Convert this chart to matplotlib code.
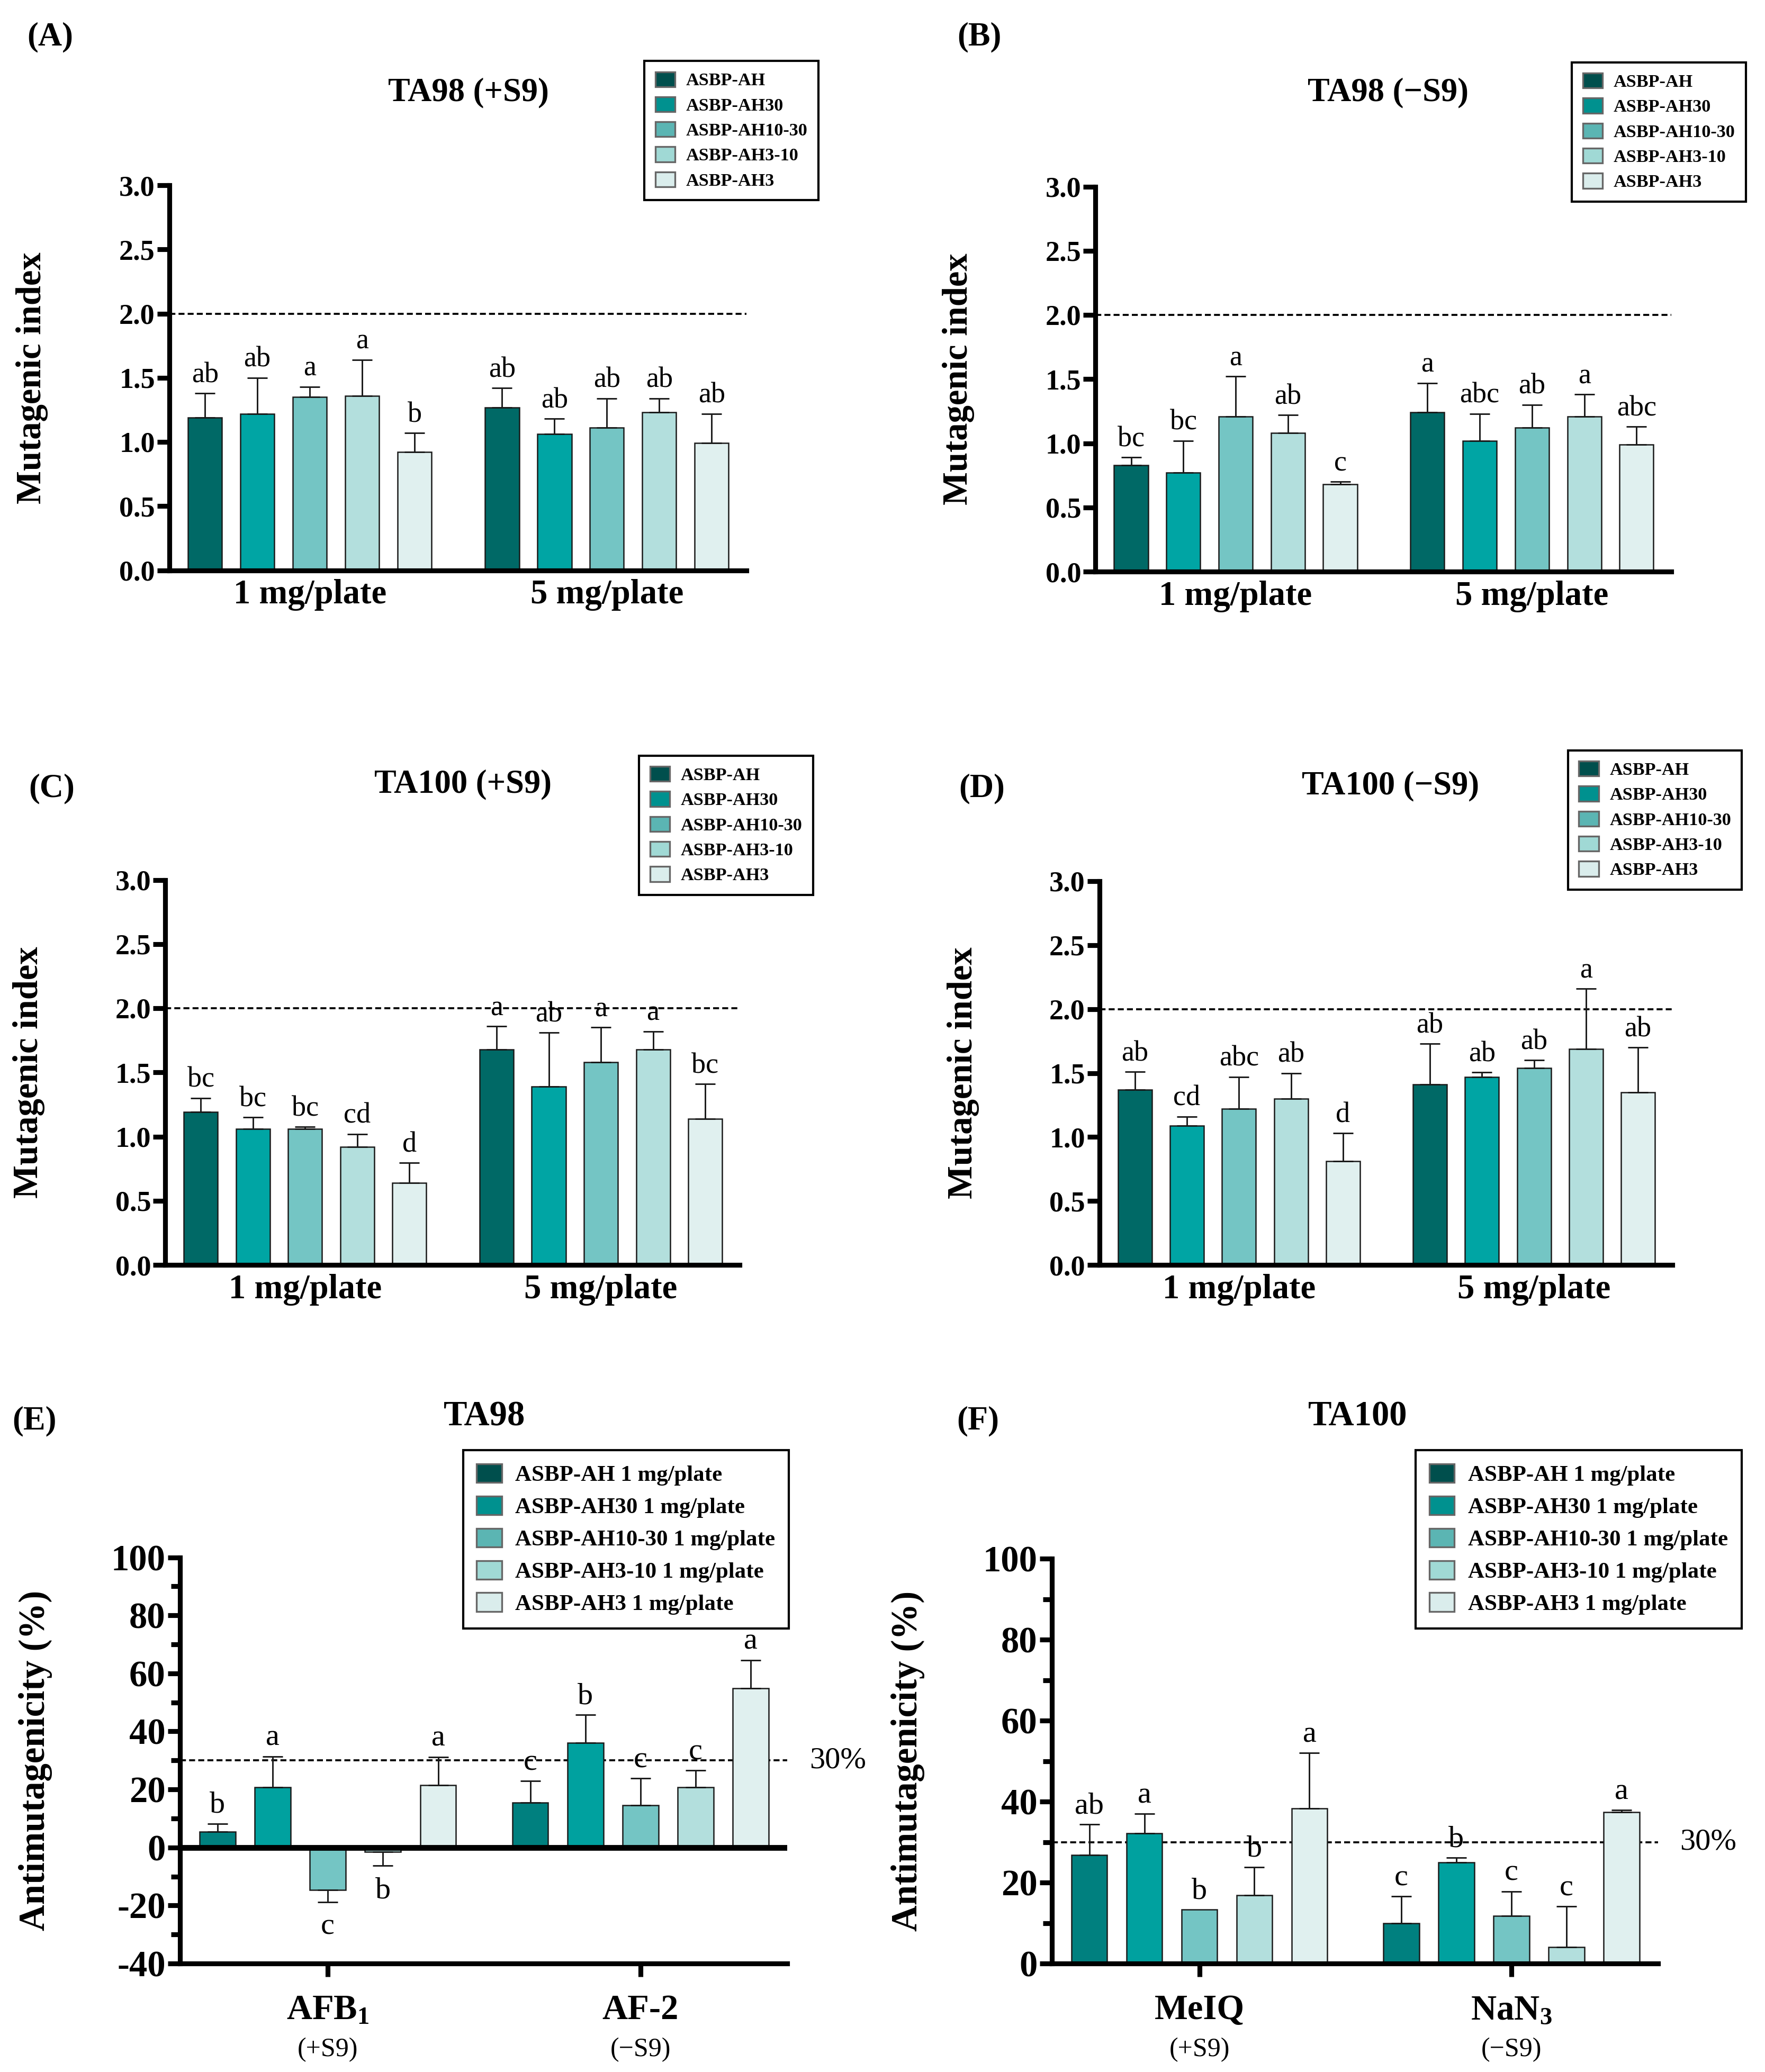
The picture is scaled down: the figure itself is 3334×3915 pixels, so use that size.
import numpy as np
import matplotlib
matplotlib.use('Agg')
import matplotlib.pyplot as plt
from matplotlib.patches import Patch
from matplotlib.ticker import MultipleLocator

plt.rcParams['font.family'] = ['Liberation Serif', 'DejaVu Serif']
plt.rcParams['font.weight'] = 'bold'
plt.rcParams['axes.labelweight'] = 'bold'
plt.rcParams['mathtext.fontset'] = 'custom'
plt.rcParams['mathtext.rm'] = 'Liberation Serif:bold'
plt.rcParams['mathtext.it'] = 'Liberation Serif:bold'
plt.rcParams['mathtext.bf'] = 'Liberation Serif:bold'

fractions = ['ASBP-AH', 'ASBP-AH30', 'ASBP-AH10-30', 'ASBP-AH3-10', 'ASBP-AH3']
doses = ['1 mg/plate', '5 mg/plate']

# mutagenic index, mean and SD, [1 mg/plate, 5 mg/plate]
a_mean = [[1.19, 1.22, 1.35, 1.36, 0.92], [1.27, 1.06, 1.11, 1.23, 0.99]]
a_sd = [[0.19, 0.28, 0.08, 0.28, 0.15], [0.15, 0.12, 0.23, 0.11, 0.23]]
a_let = [['ab', 'ab', 'a', 'a', 'b'], ['ab', 'ab', 'ab', 'ab', 'ab']]

b_mean = [[0.83, 0.77, 1.21, 1.08, 0.68], [1.24, 1.02, 1.12, 1.21, 0.99]]
b_sd = [[0.06, 0.25, 0.31, 0.14, 0.02], [0.23, 0.21, 0.18, 0.17, 0.14]]
b_let = [['bc', 'bc', 'a', 'ab', 'c'], ['a', 'abc', 'ab', 'a', 'abc']]

c_mean = [[1.19, 1.06, 1.06, 0.92, 0.64], [1.68, 1.39, 1.58, 1.68, 1.14]]
c_sd = [[0.11, 0.09, 0.015, 0.10, 0.155], [0.18, 0.42, 0.27, 0.14, 0.27]]
c_let = [['bc', 'bc', 'bc', 'cd', 'd'], ['a', 'ab', 'a', 'a', 'bc']]

d_mean = [[1.37, 1.09, 1.22, 1.30, 0.81], [1.41, 1.47, 1.54, 1.69, 1.35]]
d_sd = [[0.14, 0.07, 0.25, 0.20, 0.22], [0.32, 0.035, 0.06, 0.47, 0.35]]
d_let = [['ab', 'cd', 'abc', 'ab', 'd'], ['ab', 'ab', 'ab', 'a', 'ab']]

# antimutagenicity (%)
e_groups = ['AFB$_1$', 'AF-2']
e_sub = ['(+S9)', '(\u2212S9)']
e_mean = [[5.4, 20.8, -14.6, -1.5, 21.5], [15.4, 36.0, 14.6, 20.8, 54.9]]
e_sd = [[2.8, 10.6, 4.2, 4.8, 9.7], [7.5, 9.7, 9.2, 5.7, 9.7]]
e_let = [['b', 'a', 'c', 'b', 'a'], ['c', 'b', 'c', 'c', 'a']]

f_groups = ['MeIQ', 'NaN$_3$']
f_sub = ['(+S9)', '(\u2212S9)']
f_mean = [[26.8, 32.2, 13.3, 16.9, 38.3], [9.9, 25.0, 11.7, 4.0, 37.4]]
f_sd = [[7.6, 4.8, 0.0, 6.9, 13.7], [6.7, 1.1, 6.1, 10.1, 0.5]]
f_let = [['ab', 'a', 'b', 'b', 'a'], ['c', 'b', 'c', 'c', 'a']]

cols_mi = ['#006966', '#00A5A4', '#74C5C4', '#B3DFDD', '#E0F0EF']
cols_am = ['#00807F', '#00A19F', '#74C5C4', '#B3DFDD', '#E0F0EF']
cols_leg = ['#004F4D', '#00918F', '#5BB5B3', '#A0D9D5', '#DAEDEC']

GAP = 5.67
BW = 0.65
W, H = 1334.0, 1566.0

fig = plt.figure(figsize=(3334 / 300, 3915 / 300), dpi=300)


def add_ax(l, t, r, b):
    return fig.add_axes([l / W, 1 - b / H, (r - l) / W, (b - t) / H])


def style(ax, lw=2.2):
    for s in ['top', 'right']:
        ax.spines[s].set_visible(False)
    for s in ['left', 'bottom']:
        ax.spines[s].set_linewidth(lw)
    ax.tick_params(axis='y', width=lw, length=5.5, labelsize=13, pad=1)
    ax.set_xlim(-0.68, GAP + 4.66)


def bars(ax, means, sds, lets, cols, lsize):
    for g in range(2):
        x = g * GAP + np.arange(5)
        for i in range(5):
            m, s = means[g][i], sds[g][i]
            ax.bar(x[i], m, width=BW, color=cols[i], edgecolor='#1a1a1a',
                   linewidth=0.6, zorder=2)
            if s > 0:
                err = [[0], [s]] if m >= 0 else [[s], [0]]
                ax.errorbar(x[i], m, yerr=err, fmt='none', ecolor='#1a1a1a',
                            elinewidth=0.7, capsize=4.5, capthick=0.7, zorder=3)
            tip = m + s if m >= 0 else m - s
            ax.annotate(lets[g][i], (x[i], tip),
                        xytext=(0, 5 if m >= 0 else -5), textcoords='offset points',
                        ha='center', va='baseline' if m >= 0 else 'top',
                        fontsize=lsize, fontweight='normal', zorder=4)


def legend(x, y, labels, cols, size, ls):
    handles = [Patch(facecolor=c, edgecolor='#666666', linewidth=0.8) for c in cols]
    fig.legend(handles, labels, loc='upper left', bbox_to_anchor=(x / W, 1 - y / H),
               borderaxespad=0, frameon=True, fancybox=False, edgecolor='black',
               framealpha=1, labelspacing=ls, handlelength=1.1,
               handleheight=0.9, handletextpad=0.6, borderpad=0.6,
               prop={'weight': 'bold', 'size': size})


# panels A-D: mutagenic index
mi_panels = [
    ('(A)', 'TA98 (+S9)', (128, 140, 564, 431), a_mean, a_sd, a_let,
     (38, 28), (354, 70), (487, 46)),
    ('(B)', 'TA98 (\u2212S9)', (828, 141, 1263, 432), b_mean, b_sd, b_let,
     (740, 28), (1049, 70), (1188, 47)),
    ('(C)', 'TA100 (+S9)', (125, 665, 559, 956), c_mean, c_sd, c_let,
     (39, 596), (350, 593), (483, 571)),
    ('(D)', 'TA100 (\u2212S9)', (831, 666, 1264, 956), d_mean, d_sd, d_let,
     (742, 596), (1051, 594), (1185, 567)),
]

for tag, title, rect, means, sds, lets, tpos, ttl, lpos in mi_panels:
    ax = add_ax(*rect)
    style(ax)
    bars(ax, means, sds, lets, cols_mi, 13)
    ax.set_ylim(0, 3.0)
    ax.set_yticks(np.arange(0, 3.01, 0.5))
    ax.set_yticklabels(['%.1f' % v for v in np.arange(0, 3.01, 0.5)])
    ax.axhline(2.0, color='black', lw=0.9, ls=(0, (3, 1.6)), zorder=1)
    ax.set_xticks([2, GAP + 2])
    ax.set_xticklabels(doses, fontsize=15.5)
    ax.tick_params(axis='x', length=0, pad=4)
    ax.set_ylabel('Mutagenic index', fontsize=16, fontweight='bold')
    ax.yaxis.set_label_coords(-0.21, 0.5)
    fig.text(tpos[0] / W, 1 - tpos[1] / H, tag, fontsize=15, ha='center', va='center')
    fig.text(ttl[0] / W, 1 - ttl[1] / H, title, fontsize=15, ha='center', va='center')
    legend(lpos[0], lpos[1], fractions, cols_leg, 8.2, 0.42)

# panels E-F: antimutagenicity
am_panels = [
    ('(E)', 'TA98', (136, 1177, 595, 1484), e_mean, e_sd, e_let, e_groups, e_sub,
     (-40, 100), (26, 1074), (366, 1071), (350, 1096)),
    ('(F)', 'TA100', (795, 1178, 1253, 1484), f_mean, f_sd, f_let, f_groups, f_sub,
     (0, 100), (739, 1074), (1026, 1071), (1070, 1096)),
]

for tag, title, rect, means, sds, lets, grp, sub, ylim, tpos, ttl, lpos in am_panels:
    ax = add_ax(*rect)
    style(ax)
    bars(ax, means, sds, lets, cols_am, 14)
    ax.set_ylim(*ylim)
    ticks = np.arange(ylim[0], ylim[1] + 1, 20)
    ax.set_yticks(ticks)
    ax.set_yticklabels([str(int(t)) for t in ticks])
    ax.yaxis.set_minor_locator(MultipleLocator(10))
    ax.tick_params(axis='y', which='major', labelsize=16.5)
    ax.tick_params(axis='y', which='minor', width=2.2, length=4)
    if ylim[0] < 0:
        ax.axhline(0, color='black', lw=2.6, zorder=3)
    ax.axhline(30, color='black', lw=0.9, ls=(0, (3, 1.6)), zorder=1)
    ax.text(1.083, 30, '30%', transform=ax.get_yaxis_transform(), fontsize=14,
            fontweight='normal', ha='center', va='center')
    ax.set_xticks([2, GAP + 2])
    ax.set_xticklabels(grp, fontsize=16)
    ax.tick_params(axis='x', width=2.2, length=6, pad=8)
    for k in range(2):
        ax.annotate(sub[k], (k * GAP + 2, 0), xycoords=('data', 'axes fraction'),
                    xytext=(0, -39), textcoords='offset points', ha='center',
                    va='center', fontsize=12, fontweight='normal')
    ax.set_ylabel('Antimutagenicity (%)', fontsize=16.5, fontweight='bold')
    ax.yaxis.set_label_coords(-0.21, 0.5)
    fig.text(tpos[0] / W, 1 - tpos[1] / H, tag, fontsize=15, ha='center', va='center')
    fig.text(ttl[0] / W, 1 - ttl[1] / H, title, fontsize=16, ha='center', va='center')
    legend(lpos[0], lpos[1], [f + ' 1 mg/plate' for f in fractions], cols_leg, 10.3, 0.45)

fig.savefig('out.png', dpi=300)
